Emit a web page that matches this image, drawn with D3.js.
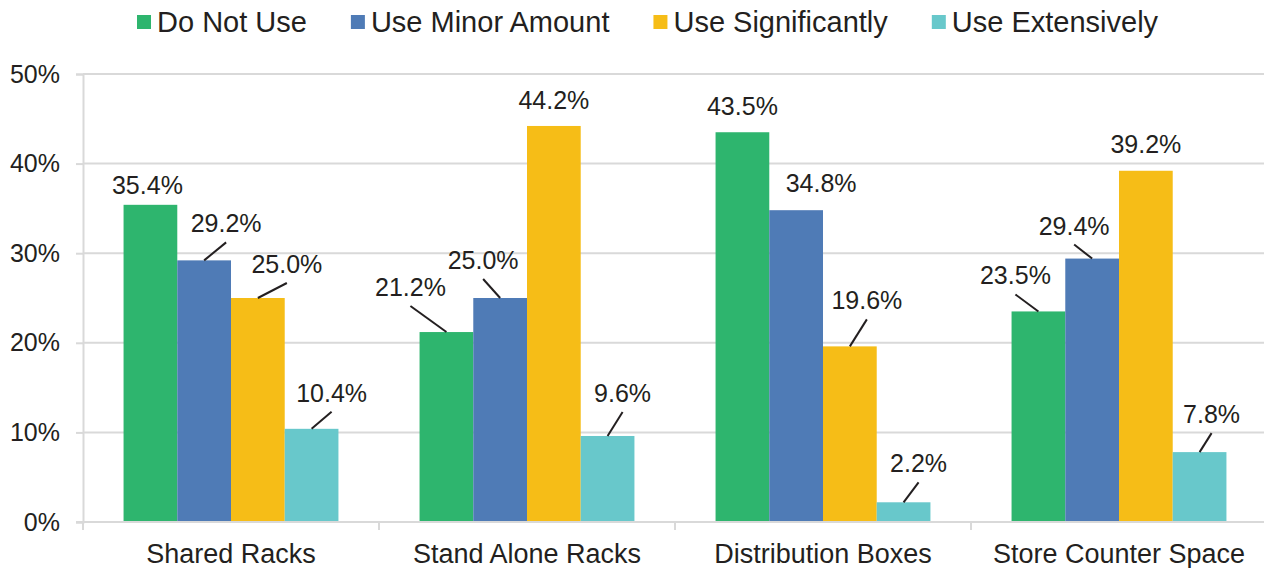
<!DOCTYPE html>
<html>
<head>
<meta charset="utf-8">
<script src="https://cdn.jsdelivr.net/npm/d3@7"></script>
<style>
  body { margin: 0; background: #fff; }
  svg { display: block; font-family: "Liberation Sans", Arial, sans-serif; }
</style>
</head>
<body>
<div class="graph"></div>
<script>
// chart data
const categories = ["Shared Racks", "Stand Alone Racks", "Distribution Boxes", "Store Counter Space"];
const seriesNames = ["Do Not Use", "Use Minor Amount", "Use Significantly", "Use Extensively"];
const doNotUse = [35.4, 21.2, 43.5, 23.5];
const useMinor = [29.2, 25.0, 34.8, 29.4];
const useSignificantly = [25.0, 44.2, 19.6, 39.2];
const useExtensively = [10.4, 9.6, 2.2, 7.8];
const yTicks = [0, 10, 20, 30, 40, 50];

const seriesValues = [doNotUse, useMinor, useSignificantly, useExtensively];
const colors = ["#2eb56e", "#4f7bb6", "#f6bd17", "#68c8cb"];

// where each data label sits relative to the top of its bar [dx, dy], per category
const labelNudge = [
  [[-3, -11], [22, -28], [29, -25], [20, -27]],
  [[-36, -36], [-17, -29], [0, -17], [15, -34]],
  [[0, -17], [25, -18], [17, -37], [15, -30]],
  [[-23, -27], [-18, -24], [0, -18], [12, -29]]
];

const width = 1264, height = 568;
const margin = {top: 74, right: -3, bottom: 46, left: 83};
const plotH = height - margin.top - margin.bottom;

const svg = d3.select(".graph").append("svg")
  .attr("width", width)
  .attr("height", height);

const x = d3.scaleBand()
  .domain(categories)
  .range([margin.left, width - margin.right]);

const xs = d3.scaleBand()
  .domain(seriesNames)
  .range([0, x.bandwidth()])
  .paddingOuter(0.755);

const y = d3.scaleLinear()
  .domain([0, 50])
  .range([margin.top + plotH, margin.top]);

// gridlines
svg.append("g")
  .selectAll("line")
  .data(yTicks.filter(d => d > 0))
  .join("line")
  .attr("x1", margin.left)
  .attr("x2", width)
  .attr("y1", d => y(d))
  .attr("y2", d => y(d))
  .attr("stroke", "#d9d9d9")
  .attr("stroke-width", 2);

// y axis
const yAxis = svg.append("g")
  .attr("transform", "translate(" + margin.left + ",0)")
  .call(d3.axisLeft(y).tickValues(yTicks).tickSize(7).tickPadding(16).tickFormat(d => d + "%"));
yAxis.select(".domain").attr("stroke", "#d9d9d9").attr("stroke-width", 2);
yAxis.selectAll(".tick line").attr("stroke", "#d9d9d9").attr("stroke-width", 2);
yAxis.selectAll(".tick text")
  .attr("font-size", 25)
  .attr("fill", "#231f20")
  .attr("font-family", "Liberation Sans, Arial, sans-serif");

// bars
const groups = svg.append("g")
  .selectAll("g")
  .data(categories)
  .join("g")
  .attr("transform", d => "translate(" + x(d) + ",0)");

const barData = (c, ci) => seriesNames.map((s, si) => ({
  series: s, si: si, ci: ci, value: seriesValues[si][ci]
}));

groups.selectAll("rect")
  .data(barData)
  .join("rect")
  .attr("x", d => xs(d.series))
  .attr("width", xs.bandwidth())
  .attr("y", d => y(d.value))
  .attr("height", d => y(0) - y(d.value))
  .attr("fill", d => colors[d.si]);

// x axis
const xAxis = svg.append("g")
  .attr("transform", "translate(0," + y(0) + ")");
xAxis.append("line")
  .attr("x1", margin.left - 7)
  .attr("x2", width)
  .attr("stroke", "#d9d9d9")
  .attr("stroke-width", 2);
xAxis.selectAll(".sep")
  .data(categories)
  .join("line")
  .attr("class", "sep")
  .attr("x1", d => x(d))
  .attr("x2", d => x(d))
  .attr("y1", 0)
  .attr("y2", 8)
  .attr("stroke", "#d9d9d9")
  .attr("stroke-width", 2);
xAxis.selectAll("text")
  .data(categories)
  .join("text")
  .attr("x", d => x(d) + x.bandwidth() / 2)
  .attr("y", 41)
  .attr("text-anchor", "middle")
  .attr("font-size", 27)
  .attr("fill", "#231f20")
  .text(d => d);

// data labels with leader lines
const labels = groups.selectAll("g.lbl")
  .data(barData)
  .join("g")
  .attr("class", "lbl");

labels.filter(d => labelNudge[d.ci][d.si][1] < -20)
  .append("line")
  .attr("x1", d => xs(d.series) + xs.bandwidth() / 2)
  .attr("y1", d => y(d.value))
  .attr("x2", d => xs(d.series) + xs.bandwidth() / 2 + labelNudge[d.ci][d.si][0])
  .attr("y2", d => y(d.value) + labelNudge[d.ci][d.si][1] + 10)
  .attr("stroke", "#231f20")
  .attr("stroke-width", 2);

labels.append("text")
  .attr("x", d => xs(d.series) + xs.bandwidth() / 2 + labelNudge[d.ci][d.si][0])
  .attr("y", d => y(d.value) + labelNudge[d.ci][d.si][1])
  .attr("text-anchor", "middle")
  .attr("font-size", 25)
  .attr("fill", "#231f20")
  .text(d => d.value.toFixed(1) + "%");

// legend
const legend = svg.append("g").attr("transform", "translate(137,22)");
let lx = 0;
seriesNames.forEach((s, i) => {
  const item = legend.append("g").attr("transform", "translate(" + lx + ",0)");
  item.append("rect")
    .attr("x", 0).attr("y", -7)
    .attr("width", 14).attr("height", 14)
    .attr("fill", colors[i]);
  const t = item.append("text")
    .attr("x", 20)
    .attr("y", 0)
    .attr("dy", "0.35em")
    .attr("font-size", 29)
    .attr("fill", "#231f20")
    .text(s);
  lx += 20 + t.node().getComputedTextLength() + 44;
});
</script>
</body>
</html>
